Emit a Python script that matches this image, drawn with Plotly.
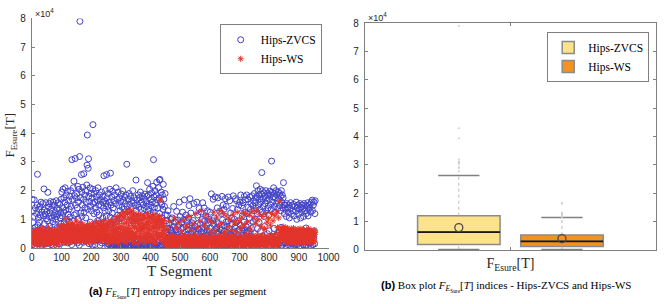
import numpy as np
import plotly.graph_objects as go

# ---------------- data (F_Esure values per T segment, in units of 100) ----------------
zvcs = [
    170, 45, 12, 88, 130, 60, 25, 168, 110, 8, 72, 140, 35, 18, 55, 120, 30, 150, 257, 80, 15, 105, 62, 135, 28,
    90, 145, 20, 115, 48, 160, 70, 10, 125, 38, 22, 155, 65, 112, 14, 206, 85, 132, 50, 118, 14, 158, 26, 102, 42,
    128, 30, 95, 194, 60, 142, 18, 110, 155, 75, 40, 122, 162, 28, 12, 135, 58, 105, 148, 25, 92, 160, 8, 115, 35,
    150, 82, 20, 126, 100, 55, 165, 110, 8, 138, 72, 118, 45, 158, 15, 30, 132, 62, 152, 105, 15, 122, 84, 170, 48,
    195, 112, 60, 140, 205, 35, 125, 175, 88, 20, 160, 210, 70, 132, 52, 185, 100, 28, 150, 198, 18, 118, 40, 165, 92,
    135, 55, 180, 108, 22, 200, 145, 75, 12, 308, 60, 170, 95, 38, 210, 48, 233, 115, 182, 25, 312, 150, 30, 120, 175,
    65, 190, 140, 18, 215, 100, 160, 58, 205, 10, 319, 790, 80, 175, 122, 45, 256, 195, 110, 150, 35, 212, 20, 170, 259,
    125, 62, 185, 140, 25, 200, 105, 160, 72, 220, 289, 394, 135, 50, 278, 311, 180, 15, 40, 162, 210, 90, 145, 20, 190,
    130, 68, 175, 10, 205, 430, 155, 35, 120, 190, 82, 160, 12, 140, 200, 28, 58, 178, 125, 28, 165, 95, 210, 70, 150,
    115, 45, 185, 35, 10, 170, 88, 148, 62, 195, 18, 25, 160, 105, 180, 52, 140, 252, 90, 165, 35, 128, 200, 75, 155,
    112, 256, 40, 175, 8, 145, 15, 190, 130, 12, 160, 20, 205, 108, 261, 5, 150, 85, 178, 10, 122, 198, 8, 140, 14,
    165, 100, 12, 185, 6, 45, 155, 18, 210, 92, 10, 5, 170, 60, 115, 195, 22, 148, 8, 10, 175, 130, 4, 162, 105,
    15, 188, 7, 142, 8, 200, 118, 12, 165, 20, 135, 6, 178, 12, 155, 28, 9, 185, 62, 292, 145, 18, 5, 170, 40,
    128, 6, 190, 10, 152, 25, 115, 180, 10, 140, 5, 165, 95, 14, 200, 8, 35, 158, 12, 5, 175, 105, 7, 148, 22,
    237, 130, 12, 168, 6, 152, 30, 9, 185, 8, 142, 14, 175, 18, 110, 195, 5, 135, 10, 160, 78, 182, 25, 7, 150,
    40, 172, 15, 138, 6, 188, 12, 8, 162, 115, 20, 180, 5, 145, 228, 35, 130, 185, 12, 155, 9, 205, 28, 120, 170,
    10, 148, 10, 192, 6, 160, 22, 215, 125, 308, 8, 178, 140, 15, 200, 5, 155, 38, 185, 110, 230, 12, 168, 18, 140,
    7, 210, 45, 175, 237, 120, 239, 10, 160, 6, 195, 12, 150, 105, 185, 8, 135, 222, 20, 170, 14, 145, 40, 190, 115,
    20, 95, 25, 50, 8, 115, 35, 70, 130, 12, 45, 85, 40, 5, 70, 28, 18, 62, 15, 100, 62, 50, 105, 22, 35,
    6, 40, 145, 35, 75, 90, 60, 18, 8, 90, 25, 65, 128, 45, 12, 38, 98, 5, 55, 80, 20, 160, 30, 10, 110,
    10, 42, 65, 18, 88, 22, 5, 125, 40, 72, 14, 100, 12, 168, 28, 8, 38, 55, 115, 20, 78, 25, 92, 48, 45,
    65, 30, 105, 6, 148, 20, 82, 172, 35, 10, 122, 50, 15, 70, 88, 58, 35, 8, 96, 62, 155, 25, 40, 12, 75,
    75, 18, 32, 48, 5, 160, 28, 85, 115, 10, 50, 65, 20, 138, 42, 8, 25, 82, 15, 125, 55, 68, 30, 38, 100,
    158, 18, 72, 60, 6, 140, 35, 95, 12, 15, 110, 50, 8, 78, 25, 62, 130, 10, 45, 88, 18, 100, 42, 38, 5,
    125, 30, 70, 20, 189, 45, 12, 35, 95, 28, 170, 8, 82, 60, 105, 15, 28, 178, 35, 66, 10, 92, 70, 22, 140,
    52, 175, 14, 85, 55, 30, 8, 128, 22, 68, 18, 45, 62, 5, 120, 180, 40, 98, 12, 150, 32, 78, 135, 60, 48,
    10, 172, 28, 90, 145, 15, 6, 75, 55, 30, 20, 178, 95, 12, 40, 68, 165, 35, 8, 122, 50, 45, 105, 18, 84,
    28, 138, 25, 182, 60, 10, 55, 100, 30, 72, 172, 15, 88, 50, 165, 35, 5, 135, 40, 95, 10, 22, 150, 65, 12,
    160, 32, 80, 185, 28, 8, 148, 70, 112, 20, 58, 158, 45, 10, 90, 180, 62, 125, 28, 168, 25, 76, 52, 185, 55,
    120, 8, 170, 82, 142, 30, 60, 105, 18, 178, 35, 135, 12, 155, 68, 40, 182, 15, 5, 148, 92, 165, 25, 130, 190,
    50, 158, 100, 15, 175, 140, 217, 35, 180, 120, 68, 200, 10, 150, 185, 90, 28, 172, 135, 205, 58, 160, 8, 188, 263,
    125, 200, 42, 170, 145, 18, 192, 110, 75, 180, 155, 30, 200, 130, 12, 175, 25, 165, 50, 190, 140, 22, 185, 115, 60,
    170, 198, 10, 150, 185, 22, 135, 303, 40, 195, 160, 15, 20, 178, 210, 68, 145, 190, 30, 125, 175, 8, 200, 155, 25,
    185, 45, 165, 138, 15, 195, 12, 170, 55, 190, 148, 25, 180, 130, 72, 200, 160, 10, 185, 140, 18, 175, 228, 35, 150,
    120, 60, 150, 18, 135, 25, 8, 110, 155, 30, 45, 140, 12, 125, 20, 150, 22, 105, 45, 138, 5, 158, 30, 28, 118,
    148, 15, 55, 130, 40, 8, 152, 25, 112, 20, 145, 38, 10, 128, 15, 160, 30, 100, 140, 12, 35, 150, 25, 118, 5,
    135, 40, 18, 155, 20, 105, 8, 142, 35, 125, 150, 20, 60, 138, 12, 110, 155, 45, 6, 130, 28, 148, 22, 70, 120,
    10, 145, 35, 30, 158, 112, 5, 135, 55, 150, 18, 20, 140, 40, 125, 8, 160, 28, 25, 167, 130, 12, 45, 150, 35,
    160, 60, 15, 120, 165,
]

ws = [
    35, 22, 48, 15, 60, 28, 40, 12, 55, 33, 25, 62, 18, 45, 30, 50, 20, 38, 68, 14, 42, 27, 58, 35, 10,
    48, 30, 20, 65, 38, 15, 52, 28, 44, 22, 70, 33, 18, 56, 40, 25, 62, 12, 36, 50, 28, 45, 20, 58, 32,
    16, 42, 55, 25, 38, 72, 20, 48, 30, 60, 14, 35, 52, 26, 44, 18, 65, 38, 22, 50, 30, 15, 56, 40, 28,
    62, 24, 45, 35, 18, 58, 30, 48, 12, 40, 66, 26, 52, 36, 20, 78, 44, 30, 60, 22, 50, 38, 72, 28, 80,
    45, 65, 30, 75, 20, 55, 82, 38, 60, 25, 70, 48, 104, 35, 58, 18, 66, 42, 76, 30, 52, 88, 24, 62, 40,
    70, 34, 56, 20, 80, 46, 64, 28, 72, 50, 38, 85, 26, 60, 44, 68, 32, 54, 78, 22, 48, 66, 36, 58, 95,
    30, 62, 45, 75, 25, 52, 68, 38, 82, 20, 56, 42, 70, 30, 64, 48, 88, 26, 58, 40, 74, 35, 60, 22, 50,
    66, 32, 54, 80, 28, 46, 70, 38, 62, 18, 52, 76, 34, 58, 44, 68, 25, 84, 40, 56, 30, 72, 48, 62, 20,
    54, 38, 74, 28, 60, 45, 86, 32, 66, 22, 50, 78, 40, 58, 30, 70, 46, 92, 26, 62, 36, 55, 80, 42, 65,
    28, 58, 44, 76, 34, 62, 50, 88, 30, 68, 40, 82, 24, 56, 72, 38, 96, 46, 64, 32, 78, 52, 60, 42, 86,
    40, 75, 22, 58, 35, 85, 18, 66, 48, 30, 90, 45, 20, 72, 38, 95, 28, 60, 25, 82, 50, 35, 88, 30, 65,
    52, 20, 78, 40, 100, 30, 62, 38, 92, 25, 70, 48, 110, 35, 58, 85, 18, 68, 45, 98, 30, 75, 50, 115, 40,
    65, 95, 28, 75, 48, 112, 38, 60, 125, 22, 85, 52, 105, 35, 70, 45, 118, 20, 90, 62, 128, 40, 58, 100, 32,
    80, 50, 120, 25, 68, 105, 42, 132, 55, 35, 92, 60, 115, 30, 78, 48, 125, 40, 98, 18, 72, 110, 52, 88, 35,
    102, 45, 70, 118, 32, 92, 58, 15, 80, 112, 40, 65, 100, 28, 85, 50, 115, 38, 75, 62, 95, 22, 68, 108, 42,
    78, 30, 98, 55, 112, 40, 82, 18, 68, 105, 48, 88, 35, 72, 120, 52, 92, 25, 80, 60, 102, 42, 65, 110, 28,
    88, 50, 108, 38, 75, 98, 22, 68, 118, 45, 85, 58, 100, 32, 72, 92, 16, 78, 110, 52, 90, 40, 66, 98, 35,
    82, 105, 48, 95, 70, 112, 42, 167, 90, 28, 75, 100, 55, 85, 38, 95, 62, 20, 80, 50, 96, 35, 70, 60, 25,
    12, 25, 5, 38, 18, 8, 30, 15, 65, 22, 4, 35, 10, 28, 92, 14, 40, 6, 20, 32, 9, 45, 16, 3, 26,
    18, 8, 36, 22, 105, 12, 28, 5, 42, 15, 24, 70, 10, 33, 20, 7, 38, 14, 26, 4, 88, 18, 30, 11, 22,
    35, 9, 20, 58, 14, 28, 6, 40, 17, 25, 98, 12, 32, 8, 22, 44, 15, 5, 30, 19, 76, 10, 26, 36, 13,
    24, 7, 38, 16, 110, 28, 11, 34, 20, 5, 42, 14, 62, 25, 9, 31, 18, 85, 12, 36, 22, 6, 45, 15, 28,
    10, 33, 120, 19, 26, 8, 40, 14, 72, 23, 5, 36, 17, 29, 11, 95, 21, 7, 38, 16, 130, 27, 12, 34, 9,
    25, 18, 44, 6, 30, 80, 13, 22, 36, 10, 115, 28, 15, 4, 40, 20, 68, 12, 32, 8, 24, 100, 17, 38, 11,
    29, 14, 52, 21, 6, 35, 90, 16, 27, 10, 42, 19, 125, 25, 8, 33, 13, 60, 22, 5, 38, 18, 108, 28, 12,
    36, 9, 24, 78, 15, 31, 7, 44, 130, 20, 26, 11, 38, 17, 85, 23, 6, 34, 14, 120, 29, 10, 40, 19, 55,
    13, 28, 8, 37, 112, 21, 16, 45, 9, 30, 74, 18, 25, 5, 39, 14, 100, 24, 11, 33, 7, 62, 20, 27, 15,
    42, 10, 118, 23, 17, 35, 6, 88, 26, 13, 40, 20, 56, 9, 31, 16, 125, 28, 12, 37, 22, 8, 95, 18, 34,
    11, 27, 70, 15, 44, 21, 6, 108, 32, 14, 24, 9, 125, 38, 17, 82, 29, 12, 35, 5, 120, 22, 16, 48, 10,
    30, 92, 19, 8, 41, 25, 13, 115, 34, 18, 6, 66, 27, 11, 39, 22, 128, 15, 31, 9, 44, 20, 105, 26, 14,
    37, 7, 85, 23, 16, 130, 33, 10, 45, 19, 28, 98, 12, 36, 21, 6, 118, 29, 15, 40, 24, 76, 11, 34, 18,
    9, 46, 26, 110, 14, 32, 20, 5, 68, 38, 17, 27, 122, 11, 35, 23, 8, 90, 30, 16, 43, 19, 102, 25, 12,
    39, 21, 7, 80, 28, 15, 45, 120, 24, 10, 36, 18, 95, 31, 13, 42, 22, 6, 112, 29, 16, 50, 26, 9, 125,
    33, 19, 72, 27, 11, 40, 105, 22, 14, 163, 36, 55, 62, 48, 70, 35, 58, 42, 66, 30, 52, 75, 40, 60, 28,
    45, 68, 25, 55, 38, 72, 20, 50, 62, 32, 44, 70, 18, 58, 40, 28, 65, 35, 52, 22, 60, 42, 30, 68, 15,
    48, 36, 62, 24, 55, 40, 70, 30, 45, 20, 58, 35, 65, 15, 50, 42, 28, 62, 38, 52, 22, 66, 33, 46, 18,
    56, 30, 44, 68, 25, 50, 38, 60, 20, 48, 35, 65, 28, 54, 40, 15, 62, 32, 46, 24, 58, 36, 52, 20, 42,
    64, 28, 50, 38, 58, 22, 45, 68, 32, 55, 18, 42, 60, 30, 48, 25, 62, 36, 52, 20, 44, 58, 28, 50, 35,
    40, 62, 25, 48, 55,
]

series_names = ["Hips-ZVCS", "Hips-WS"]
# box-plot statistics (units of 10^4)
box_q1 = [0.19, 0.125]
box_median = [0.63, 0.305]
box_q3 = [1.21, 0.53]
box_lower = [0.02, 0.02]
box_upper = [2.63, 1.15]
box_mean = [0.79, 0.40]

x_ticks = [0, 100, 200, 300, 400, 500, 600, 700, 800, 900, 1000]
y_ticks = [0, 1, 2, 3, 4, 5, 6, 7, 8]

# ---------------- styling ----------------
W, H = 670, 304
SANS = "Liberation Sans, Arial, sans-serif"
SERIF = "Liberation Serif, Times New Roman, serif"
AXC = "#7f7f7f"
TXT = "#262626"
BLUE = "#4343c6"
RED = "#e3342b"
BOX_FILL = ["#fbe28b", "#f4921f"]


def fx(p):
    return p / W


def fy(p):
    return 1 - p / H


zv = np.array(zvcs) / 100.0
wv = np.array(ws) / 100.0
series_vals = [zv, wv]
pos = [1, 2]

fig = go.Figure()

# --- left: scatter per segment
fig.add_trace(go.Scatter(
    x=np.arange(1, len(zv) + 1), y=zv, mode="markers", name=series_names[0],
    marker=dict(symbol="circle-open", size=6, color=BLUE, line=dict(width=1, color=BLUE)),
    xaxis="x", yaxis="y", legend="legend", hoverinfo="skip"))
fig.add_trace(go.Scatter(
    x=np.arange(1, len(wv) + 1), y=wv, mode="markers", name=series_names[1],
    marker=dict(symbol="asterisk-open", size=5, color=RED, line=dict(width=1, color=RED)),
    xaxis="x", yaxis="y", legend="legend", hoverinfo="skip"))

# --- right: box plots
for i, name in enumerate(series_names):
    fig.add_trace(go.Box(
        x=[pos[i]], q1=[box_q1[i]], median=[box_median[i]], q3=[box_q3[i]],
        lowerfence=[box_q1[i]], upperfence=[box_q3[i]],
        width=0.8, whiskerwidth=0, fillcolor=BOX_FILL[i],
        line=dict(color="#8a8a8a", width=1.5), name=name,
        xaxis="x2", yaxis="y2", legend="legend2", hoverinfo="skip"))

for i in range(2):
    p = pos[i]
    # dotted whiskers
    fig.add_trace(go.Scatter(
        x=[p, p, None, p, p], y=[box_q3[i], box_upper[i], None, box_lower[i], box_q1[i]],
        mode="lines", line=dict(color="#b8b8b8", width=1, dash="dot"),
        xaxis="x2", yaxis="y2", showlegend=False, hoverinfo="skip"))
    # whisker caps
    fig.add_trace(go.Scatter(
        x=[p - 0.2, p + 0.2, None, p - 0.2, p + 0.2],
        y=[box_upper[i], box_upper[i], None, box_lower[i], box_lower[i]],
        mode="lines", line=dict(color="#808080", width=1.5),
        xaxis="x2", yaxis="y2", showlegend=False, hoverinfo="skip"))
    # median
    fig.add_trace(go.Scatter(
        x=[p - 0.4, p + 0.4], y=[box_median[i], box_median[i]],
        mode="lines", line=dict(color="#1a1a1a", width=1.6),
        xaxis="x2", yaxis="y2", showlegend=False, hoverinfo="skip"))
    # outliers
    out = series_vals[i][series_vals[i] > box_upper[i]]
    fig.add_trace(go.Scatter(
        x=[p] * len(out), y=out, mode="markers",
        marker=dict(symbol="circle", size=2, color="#cfcfcf"),
        xaxis="x2", yaxis="y2", showlegend=False, hoverinfo="skip"))

# means
fig.add_trace(go.Scatter(
    x=pos, y=box_mean, mode="markers",
    marker=dict(symbol="circle-open", size=8, color="#4a4a4a", line=dict(width=1.3, color="#4a4a4a")),
    xaxis="x2", yaxis="y2", showlegend=False, hoverinfo="skip"))

axis_common = dict(showgrid=False, zeroline=False, showline=True, linecolor=AXC, linewidth=1,
                   ticks="inside", ticklen=3, tickcolor=AXC,
                   tickfont=dict(family=SANS, size=10, color=TXT))
axis_nofont = {k: v for k, v in axis_common.items() if k != "tickfont"}

fig.update_layout(
    width=W, height=H, margin=dict(l=0, r=0, t=0, b=0),
    paper_bgcolor="white", plot_bgcolor="white",
    showlegend=True,
    xaxis=dict(domain=[fx(29.5), fx(333)], range=[0, 1000], tickvals=x_ticks,
               anchor="y", **axis_common),
    yaxis=dict(domain=[fy(252), fy(13)], range=[0, 8], tickvals=y_ticks,
               anchor="x", ticklabelstandoff=3, **axis_common),
    xaxis2=dict(domain=[fx(370), fx(668)], range=[0.0875, 2.9125], tickvals=[1.5],
                ticktext=["F<sub>Esure</sub>[T]"], anchor="y2", mirror="ticks",
                tickfont=dict(family=SERIF, size=14, color=TXT), **axis_nofont),
    yaxis2=dict(domain=[fy(254), fy(18)], range=[0, 8], tickvals=y_ticks,
                anchor="x2", mirror="ticks", ticklabelstandoff=3, **axis_common),
    legend=dict(x=fx(326), xanchor="right", y=fy(19), yanchor="top",
                bgcolor="white", bordercolor=AXC, borderwidth=1,
                font=dict(family=SERIF, size=11.5, color="black"), tracegroupgap=0),
    legend2=dict(x=fx(661), xanchor="right", y=fy(27), yanchor="top",
                 bgcolor="white", bordercolor=AXC, borderwidth=1,
                 font=dict(family=SERIF, size=11.5, color="black"), tracegroupgap=0),
)

ann = [
    dict(text="×10<sup>4</sup>", x=fx(30.5), y=fy(7), xanchor="left", yanchor="middle",
         font=dict(family=SANS, size=9, color=TXT)),
    dict(text="×10<sup>4</sup>", x=fx(371), y=fy(11), xanchor="left", yanchor="middle",
         font=dict(family=SANS, size=9, color=TXT)),
    dict(text="F<sub>Esure</sub>[T]", x=fx(8), y=fy(134), textangle=-90,
         xanchor="center", yanchor="middle", font=dict(family=SERIF, size=13, color=TXT)),
    dict(text="T Segment", x=fx(181), y=fy(276), xanchor="center", yanchor="middle",
         font=dict(family=SERIF, size=15, color=TXT)),
    dict(text="<b><span style='font-family:Liberation Sans'>(a)</span></b> "
              "<i>F</i><sub><i>E</i><sub>Sure</sub></sub>[<i>T</i>] entropy indices per segment",
         x=fx(179), y=fy(298), xanchor="center", yanchor="middle",
         font=dict(family=SERIF, size=11, color="black")),
    dict(text="<b><span style='font-family:Liberation Sans'>(b)</span></b> Box plot "
              "<i>F</i><sub><i>E</i><sub>Sure</sub></sub>[<i>T</i>] indices - Hips-ZVCS and Hips-WS",
         x=fx(515), y=fy(292), xanchor="center", yanchor="middle",
         font=dict(family=SERIF, size=11, color="black")),
]
for a in ann:
    a.update(xref="paper", yref="paper", showarrow=False)
fig.update_layout(annotations=ann)

fig.write_html("out.html", config={"displayModeBar": False},
               post_script="document.body.style.margin='0';document.body.style.overflow='hidden';")
